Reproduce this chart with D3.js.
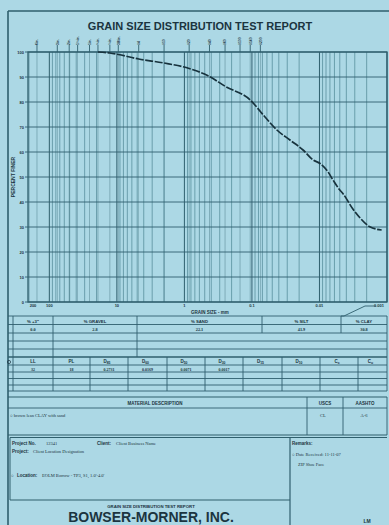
<!DOCTYPE html>
<html><head><meta charset="utf-8">
<script src="https://cdn.jsdelivr.net/npm/d3@7/dist/d3.min.js"></script>
<style>html,body{margin:0;padding:0;background:#acd8e5;}svg{display:block;}</style>
</head><body>
<svg id="c" width="389" height="525"></svg>
<script>
// ---- data ----
const grainSizes = [19.05, 12.7, 9.525, 4.75, 2.0, 0.85, 0.425, 0.25, 0.106, 0.064, 0.0427, 0.0274, 0.0175, 0.0124, 0.0098, 0.0075, 0.0063, 0.0050, 0.0045, 0.0032, 0.0025, 0.0018, 0.0012];
const percentFiner = [100, 99.6, 99.0, 97.2, 95.6, 93.4, 90.2, 86.3, 80.8, 74.0, 68.8, 64.8, 60.8, 56.8, 55.4, 52.1, 48.8, 44.8, 43.4, 37.2, 33.6, 30.1, 28.8];
const sieveSizes = [152.4, 76.2, 50.8, 38.1, 25.4, 19.05, 12.7, 9.525, 4.75, 2.0, 0.85, 0.425, 0.25, 0.15, 0.106, 0.075];
const sieveLabels = ["6in.", "3in.", "2in.", "1½in.", "1in.", "¾in.", "½in.", "3/8in.", "#4", "#10", "#20", "#40", "#60", "#100", "#140", "#200"];
const xTickValues = [200, 100, 10, 1, 0.1, 0.01, 0.001];
const xTickLabels = ["200", "100", "10", "1", "0.1", "0.01", "0.001"];
const yTickValues = [0, 10, 20, 30, 40, 50, 60, 70, 80, 90, 100];
const fracHeaders = ["% +3\"", "% GRAVEL", "% SAND", "% SILT", "% CLAY"];
const fracValues = ["0.0", "2.8", "22.1", "41.9", "30.8"];
const propHeaders = [["LL",""], ["PL",""], ["D","85"], ["D","60"], ["D","50"], ["D","30"], ["D","15"], ["D","10"], ["C","c"], ["C","u"]];
const propValues = ["32", "18", "0.2731", "0.0169", "0.0071", "0.0017", "", "", "", ""];
const materialDesc = "brown lean CLAY with sand";
const uscs = "CL", aashto = "A-6";

// ---- setup ----
const svg = d3.select("#c");
const LINE = "#2f5f6d", GRID = "#4e8594", TXT = "#1b3440";
const SANS = "'Liberation Sans', Arial, sans-serif", SERIF = "'Liberation Serif', 'Times New Roman', serif";

const x = d3.scaleLog().domain([200, 0.001]).range([29, 387]);
const y = d3.scaleLinear().domain([0, 100]).range([302, 52]);
const X0 = 28, X1 = 387, Y0 = 52, Y1 = 302;

// page frame
svg.append("line").attr("x1",8).attr("x2",8).attr("y1",11).attr("y2",525).attr("stroke",LINE).attr("stroke-width",1.6);
svg.append("line").attr("x1",8).attr("x2",389).attr("y1",11).attr("y2",11).attr("stroke",LINE).attr("stroke-width",1.6);

// title
svg.append("text").attr("x",200).attr("y",29.5).attr("text-anchor","middle")
  .attr("font-family",SANS).attr("font-weight","bold").attr("font-size",11).attr("fill",TXT)
  .text("GRAIN SIZE DISTRIBUTION TEST REPORT");

// grid: vertical log lines
const g = svg.append("g");
const vlines = [];
for (let k = -3; k <= 2; k++) for (let d = 1; d <= 9; d++) {
  const v = d * Math.pow(10, k);
  if (v >= 0.001 && v <= 200) vlines.push({v, major: d === 1});
}
g.selectAll("line.v").data(vlines).join("line")
  .attr("x1", d => x(d.v)).attr("x2", d => x(d.v)).attr("y1", Y0).attr("y2", Y1)
  .attr("stroke", d => d.major ? LINE : GRID).attr("stroke-width", d => d.major ? 1 : 0.7);
// sieve lines (darker)
g.selectAll("line.s").data(sieveSizes).join("line")
  .attr("x1", d => x(d)).attr("x2", d => x(d)).attr("y1", Y0).attr("y2", Y1)
  .attr("stroke", LINE).attr("stroke-width", 0.6).attr("opacity",0.6);
// horizontal lines
g.selectAll("line.h").data(yTickValues).join("line")
  .attr("x1", X0 - 3).attr("x2", X1).attr("y1", d => y(d)).attr("y2", d => y(d))
  .attr("stroke", LINE).attr("stroke-width", 0.9);
// frame
svg.append("rect").attr("x",X0).attr("y",Y0).attr("width",X1-X0).attr("height",Y1-Y0)
  .attr("fill","none").attr("stroke",LINE).attr("stroke-width",1.3);

// y labels
svg.selectAll("text.yl").data(yTickValues).join("text")
  .attr("x", X0 - 4).attr("y", d => y(d) + 1.5).attr("text-anchor","end")
  .attr("font-family",SANS).attr("font-weight","bold").attr("font-size",4).attr("fill",TXT)
  .text(d => d);
svg.append("text").attr("transform","translate(15,177) rotate(-90)").attr("text-anchor","middle")
  .attr("font-family",SANS).attr("font-weight","bold").attr("font-size",5).attr("fill",TXT)
  .text("PERCENT FINER");

// x labels
svg.selectAll("text.xl").data(xTickValues).join("text")
  .attr("x", (d,i) => x(d) + (i === 0 ? 4 : (i === xTickValues.length-1 ? -8 : 0)))
  .attr("y", 307).attr("text-anchor","middle")
  .attr("font-family",SANS).attr("font-weight","bold").attr("font-size",4).attr("fill",TXT)
  .text((d,i) => xTickLabels[i]);
svg.append("text").attr("x",210).attr("y",313.5).attr("text-anchor","middle")
  .attr("font-family",SANS).attr("font-weight","bold").attr("font-size",4.5).attr("fill",TXT)
  .text("GRAIN SIZE - mm");

// sieve markers on top
const sv = svg.append("g");
sieveSizes.forEach((s, i) => {
  sv.append("line").attr("x1",x(s)).attr("x2",x(s)).attr("y1",Y0-7).attr("y2",Y0)
    .attr("stroke",LINE).attr("stroke-width",0.9);
  sv.append("text").attr("transform",`translate(${x(s)+1.3},${Y0-7}) rotate(-90)`)
    .attr("font-family",SANS).attr("font-weight","bold").attr("font-size",3.4).attr("fill",TXT)
    .text(sieveLabels[i]);
});

// curve
const pts = grainSizes.map((s,i) => [x(s), y(percentFiner[i])]);
svg.append("path").attr("d", d3.line().curve(d3.curveMonotoneX)(pts))
  .attr("fill","none").attr("stroke","#17323d").attr("stroke-width",1.7)
  .attr("stroke-dasharray","8,1.6");

// ---- tables ----
const T = svg.append("g").attr("stroke",LINE).attr("stroke-width",0.9);
function hl(y0, xa=8, xb=387, w=0.9){ T.append("line").attr("x1",xa).attr("x2",xb).attr("y1",y0).attr("y2",y0).attr("stroke-width",w); }
function vl(x0, ya, yb, w=0.9){ T.append("line").attr("x1",x0).attr("x2",x0).attr("y1",ya).attr("y2",yb).attr("stroke-width",w); }
function txt(s, tx, ty, opts={}){
  return svg.append("text").attr("x",tx).attr("y",ty).attr("text-anchor",opts.anchor||"middle")
    .attr("font-family",opts.serif?SERIF:SANS).attr("font-weight",opts.bold?"bold":"normal")
    .attr("font-size",opts.size||4.5).attr("fill",TXT).text(s);
}

// leader line near clay column
T.append("polyline").attr("points","341,316 344,316 365,306 376,306").attr("fill","none");

// fraction table
const fracCols = [13, 53, 137, 262, 341, 387];
[316, 324.5, 333, 341, 349].forEach(v => hl(v));
hl(357, 8, 387, 1.4);
vl(13, 316, 357); vl(387, 316, 357);
vl(53, 316, 357); vl(137, 316, 357);
vl(262, 316, 333); vl(341, 316, 333);
fracHeaders.forEach((h,i) => {
  const cx = (fracCols[i] + fracCols[i+1]) / 2;
  txt(h, cx, 322.5, {bold:true, size:4.3});
  txt(fracValues[i], cx, 331, {bold:true, size:4.3, serif:true});
});

// properties table
const propCols = [13, 53, 90, 128, 167, 205, 243, 282, 320, 358, 387];
[365, 372, 378.5, 385, 391].forEach(v => hl(v));
propCols.forEach(c => vl(c, 357, 391));
propHeaders.forEach((h,i) => {
  const cx = (propCols[i] + propCols[i+1]) / 2;
  const t = txt(h[0], cx - (h[1]?2:0), 363, {bold:true, size:4.5});
  if (h[1]) t.append("tspan").attr("dy",1.3).attr("font-size",3.4).text(h[1]);
  txt(propValues[i], cx, 370.5, {bold:true, size:4, serif:true});
});
svg.append("circle").attr("cx",9).attr("cy",362).attr("r",1.6).attr("fill","none").attr("stroke",TXT).attr("stroke-width",0.7);

// material description
hl(397, 8, 387, 1.2); hl(408); hl(435, 8, 387, 1.2);
vl(307, 397, 435); vl(343, 397, 435); vl(387, 397, 435);
txt("MATERIAL DESCRIPTION", 155, 404.5, {bold:true, size:4.5});
txt("USCS", 325, 404.5, {bold:true, size:4.5});
txt("AASHTO", 365, 404.5, {bold:true, size:4.5});
txt("○ " + materialDesc, 10, 416.5, {anchor:"start", size:4.5, serif:true});
txt(uscs, 323, 416.5, {size:4.5, serif:true});
txt(aashto, 364, 416.5, {size:4.5, serif:true});

// project box
hl(437.5, 10, 387, 1.2);
vl(290, 437.5, 525, 1.2);
hl(500, 10, 290, 1.2);
vl(10, 437.5, 500, 1);
txt("Project No.", 12, 444.5, {anchor:"start", bold:true, size:4.5});
txt("12341", 46, 444.5, {anchor:"start", size:4.5, serif:true});
txt("Client:", 97, 444.5, {anchor:"start", bold:true, size:4.5});
txt("Client Business Name", 116, 444.5, {anchor:"start", size:4.5, serif:true});
txt("Project:", 12, 452.5, {anchor:"start", bold:true, size:4.5});
txt("Client Location Designation", 33, 452.5, {anchor:"start", size:4.5, serif:true});
txt("○ ", 11, 476.5, {anchor:"start", size:4.5});
txt("Location:", 17, 476.5, {anchor:"start", bold:true, size:4.5});
txt("EOLM Borrow - TP3, S1, 1.0'-4.0'", 42, 476.5, {anchor:"start", size:4.5, serif:true});

txt("Remarks:", 292, 444.5, {anchor:"start", bold:true, size:4.5});
txt("○ Date Received: 11-11-07", 292, 456, {anchor:"start", size:4.5, serif:true});
txt("ZIP Shoe Face", 298, 465.5, {anchor:"start", size:4.5, serif:true});

txt("GRAIN SIZE DISTRIBUTION TEST REPORT", 151, 507.5, {bold:true, size:4.3});
txt("BOWSER-MORNER, INC.", 151, 521.5, {bold:true, size:14});
txt("LM", 367, 522.5, {bold:true, size:5});
</script>
</body></html>
